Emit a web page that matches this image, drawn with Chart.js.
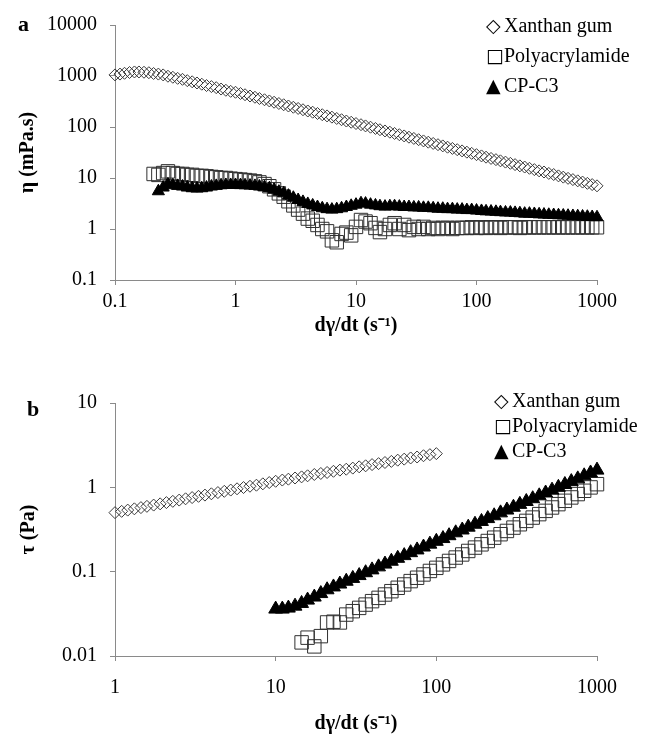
<!DOCTYPE html>
<html>
<head>
<meta charset="utf-8">
<script src="https://cdn.jsdelivr.net/npm/chart.js@4.4.1/dist/chart.umd.min.js"></script>
<style>
  body { margin: 0; background: #fff; }
  #page { position: relative; width: 646px; height: 738px; overflow: hidden; }
  .box { position: absolute; left: 0; width: 646px; }
  .lg { position: absolute; font: 20px 'Liberation Serif', serif; line-height: 24px; white-space: nowrap; color: #000; }
  .sym { display: inline-block; width: 18px; font-family: 'DejaVu Sans', sans-serif; font-size: 19px; }
  .panel { position: absolute; font: bold 22px 'Liberation Serif', serif; line-height: 26px; color: #000; }
</style>
</head>
<body>
<div id="page">
  <div class="box" style="top:0;height:345px"><canvas id="viscosityChart"></canvas></div>
  <div class="box" style="top:345px;height:393px"><canvas id="stressChart"></canvas></div>

  <div class="panel" style="left:18px;top:11px">a</div>
  <div class="lg" style="left:486px;top:13px"><span class="sym">◇</span>Xanthan gum</div>
  <div class="lg" style="left:486px;top:43px"><span class="sym">□</span>Polyacrylamide</div>
  <div class="lg" style="left:486px;top:73px"><span class="sym">▲</span>CP-C3</div>

  <div class="panel" style="left:27px;top:396px">b</div>
  <div class="lg" style="left:494px;top:388px"><span class="sym">◇</span>Xanthan gum</div>
  <div class="lg" style="left:494px;top:413px"><span class="sym">□</span>Polyacrylamide</div>
  <div class="lg" style="left:494px;top:438px"><span class="sym">▲</span>CP-C3</div>
</div>
<script>
// shear rates (1/s), same sweep for both panels
const shearRate = [
  0.1, 0.11, 0.12, 0.132, 0.145, 0.158, 0.174, 0.191, 0.209, 0.229,
  0.251, 0.275, 0.302, 0.331, 0.363, 0.398, 0.437, 0.479, 0.525, 0.575,
  0.631, 0.692, 0.759, 0.832, 0.912, 1, 1.1, 1.2, 1.32, 1.45,
  1.58, 1.74, 1.91, 2.09, 2.29, 2.51, 2.75, 3.02, 3.31, 3.63,
  3.98, 4.37, 4.79, 5.25, 5.75, 6.31, 6.92, 7.59, 8.32, 9.12,
  10, 11, 12, 13.2, 14.5, 15.8, 17.4, 19.1, 20.9, 22.9,
  25.1, 27.5, 30.2, 33.1, 36.3, 39.8, 43.7, 47.9, 52.5, 57.5,
  63.1, 69.2, 75.9, 83.2, 91.2, 100, 110, 120, 132, 145,
  158, 174, 191, 209, 229, 251, 275, 302, 331, 363,
  398, 437, 479, 525, 575, 631, 692, 759, 832, 912,
  1000
];

// panel a: viscosity (mPa.s)
const xanthanEta = [
  1050, 1090, 1130, 1170, 1200, 1200, 1185, 1160, 1120, 1090,
  1050, 990, 945, 900, 860, 810, 770, 730, 690, 650,
  620, 590, 555, 525, 500, 480, 454, 429, 405, 383,
  362, 342, 324, 306, 289, 273, 258, 244, 231, 218,
  206, 195, 184, 174, 165, 156, 147, 139, 131, 124,
  117, 111, 105, 99.1, 93.6, 88.5, 83.7, 79.1, 74.7, 70.6,
  66.8, 63.1, 59.7, 56.4, 53.3, 50.4, 47.6, 45.0, 42.6, 40.2,
  38.0, 35.9, 34.0, 32.1, 30.4, 28.7, 27.1, 25.6, 24.2, 22.9,
  21.7, 20.5, 19.4, 18.3, 17.3, 16.4, 15.5, 14.6, 13.8, 13.1,
  12.3, 11.7, 11.0, 10.4, 9.85, 9.31, 8.80, 8.32, 7.86, 7.43,
  7.02
];
const pamEta = [
  null, null, null, null, null, null, null, null, 12, 11.5,
  12.5, 13.5, 12.5, 12, 12, 11.5, 11.5, 11, 11, 10.8,
  10.5, 10.3, 10, 10, 9.7, 9.5, 9.3, 9.1, 8.9, 8.6,
  8.2, 7.6, 6.9, 6.0, 5.0, 4.3, 3.5, 2.9, 2.4, 2.0,
  1.6, 1.45, 1.2, 1.0, 0.9, 0.6, 0.55, 0.8, 0.85, 0.75,
  1.1, 1.5, 1.4, 1.3, 1.05, 0.87, 1.0, 1.2, 1.3, 1.0,
  1.2, 0.95, 1.1, 1.0, 1.1, 1.0, 1.05, 1.0, 1.05, 1.05,
  1.0, 1.05, 1.05, 1.05, 1.08, 1.05, 1.08, 1.05, 1.08, 1.08,
  1.05, 1.08, 1.08, 1.08, 1.05, 1.08, 1.08, 1.08, 1.08, 1.08,
  1.08, 1.08, 1.08, 1.08, 1.08, 1.08, 1.08, 1.08, 1.08, 1.08,
  1.08
];
const cpEta = [
  null, null, null, null, null, null, null, null, null, 5.5,
  6.5, 7.5, 7.2, 7, 6.8, 6.5, 6.3, 6.2, 6.3, 6.5,
  6.8, 7, 7.2, 7.3, 7.3, 7.3, 7.25, 7.2, 7.1, 7.0,
  6.8, 6.6, 6.3, 5.9, 5.4, 5.0, 4.5, 4.1, 3.7, 3.4,
  3.1, 2.9, 2.7, 2.55, 2.45, 2.4, 2.45, 2.55, 2.7, 2.85,
  3.0, 3.2, 3.15, 3.0, 2.9, 2.8, 2.75, 2.8, 2.8, 2.75,
  2.7, 2.7, 2.65, 2.65, 2.6, 2.6, 2.55, 2.5, 2.5, 2.45,
  2.45, 2.4, 2.4, 2.35, 2.35, 2.3, 2.26, 2.22, 2.2, 2.17,
  2.14, 2.11, 2.1, 2.07, 2.04, 2.0, 2.0, 1.97, 1.94, 1.92,
  1.9, 1.88, 1.86, 1.84, 1.82, 1.8, 1.78, 1.76, 1.74, 1.72,
  1.7
];

// panel b: shear stress (Pa)
const xanthanTau = [
  null, null, null, null, null, null, null, null, null, null,
  null, null, null, null, null, null, null, null, null, null,
  null, null, null, null, null, 0.501, 0.519, 0.537, 0.556, 0.575,
  0.595, 0.616, 0.637, 0.659, 0.682, 0.706, 0.731, 0.756, 0.782, 0.809,
  0.838, 0.867, 0.897, 0.928, 0.961, 0.995, 1.03, 1.06, 1.10, 1.14,
  1.18, 1.22, 1.25, 1.29, 1.33, 1.37, 1.42, 1.46, 1.50, 1.55,
  1.60, 1.64, 1.69, 1.75, 1.80, 1.86, 1.91, 1.97, 2.03, 2.10,
  2.16, 2.23, 2.29, 2.37, 2.44, 2.51
];
const pamTau = [
  null, null, null, null, null, null, null, null, null, null,
  null, null, null, null, null, null, null, null, null, null,
  null, null, null, null, null, null, null, null, null, null,
  null, null, null, null, null, null, null, null, null, null,
  null, null, null, null, null, null, null, null, null, null,
  null, null, null, null, 0.0145, 0.0165, 0.013, 0.0172, 0.025, 0.0255,
  0.025, 0.031, 0.034, 0.0372, 0.0407, 0.0447, 0.0489, 0.0536, 0.0587, 0.0644,
  0.0705, 0.0773, 0.0847, 0.0927, 0.102, 0.111, 0.122, 0.134, 0.147, 0.160,
  0.176, 0.193, 0.211, 0.231, 0.253, 0.278, 0.304, 0.333, 0.365, 0.400,
  0.438, 0.481, 0.526, 0.577, 0.632, 0.692, 0.759, 0.832, 0.910, 0.998,
  1.09
];
const cpTau = [
  null, null, null, null, null, null, null, null, null, null,
  null, null, null, null, null, null, null, null, null, null,
  null, null, null, null, null, null, null, null, null, null,
  null, null, null, null, null, null, null, null, null, null,
  null, null, null, null, null, null, null, null, null, null,
  0.036, 0.036, 0.037, 0.039, 0.042, 0.046, 0.050, 0.055, 0.061, 0.0659,
  0.0713, 0.077, 0.0832, 0.0899, 0.0972, 0.105, 0.114, 0.123, 0.133, 0.144,
  0.155, 0.168, 0.181, 0.196, 0.212, 0.229, 0.247, 0.267, 0.289, 0.312,
  0.337, 0.365, 0.394, 0.426, 0.460, 0.498, 0.538, 0.581, 0.628, 0.679,
  0.733, 0.793, 0.857, 0.926, 1.00, 1.08, 1.17, 1.26, 1.37, 1.48,
  1.60
];

// axis tick values
const rateTicksA = [0.1, 1, 10, 100, 1000];
const etaTicks = [0.1, 1, 10, 100, 1000, 10000];
const rateTicksB = [1, 10, 100, 1000];
const tauTicks = [0.01, 0.1, 1, 10];

const FONT = 'Liberation Serif';
const axisGray = '#8a8a8a';

const toPoints = (ys) => shearRate
  .map((x, i) => ({ x, y: ys[i] }))
  .filter(p => p.y != null);

const makeAxis = (ticksList, min, max, title, opts) => ({
  type: 'logarithmic',
  min, max,
  afterBuildTicks: s => { s.ticks = ticksList.map(v => ({ value: v })); },
  afterFit: opts.fit,
  border: { display: true, color: axisGray, width: 1 },
  grid: { display: true, drawOnChartArea: false, drawTicks: true, tickLength: 5, color: axisGray, lineWidth: 1 },
  ticks: {
    color: '#000',
    font: { family: FONT, size: 20 },
    padding: opts.pad,
    autoSkip: false,
    maxRotation: 0,
    callback: v => String(v)
  },
  title: {
    display: true,
    text: title,
    color: '#000',
    font: { family: FONT, size: 20, weight: 'bold' },
    padding: opts.titlePad
  }
});

const makeDatasets = (xg, pam, cp, big) => ([{
    label: 'Xanthan gum',
    data: toPoints(xg),
    pointStyle: 'rectRot',
    pointRadius: 6,
    borderColor: '#3a3a3a',
    backgroundColor: 'rgba(0,0,0,0)',
    borderWidth: 1,
    order: 3
  }, {
    label: 'Polyacrylamide',
    data: toPoints(pam),
    pointStyle: 'rect',
    pointRadius: 9.5,
    borderColor: '#303030',
    backgroundColor: 'rgba(0,0,0,0)',
    borderWidth: 1,
    order: 2
  }, {
    label: 'CP-C3',
    data: toPoints(cp),
    pointStyle: 'triangle',
    pointRadius: big ? 8 : 7,
    borderColor: '#000',
    backgroundColor: '#000',
    borderWidth: 1,
    order: 1
  }]);

const baseOptions = (padTop, xAxis, yAxis) => ({
  responsive: true,
  maintainAspectRatio: false,
  animation: false,
  devicePixelRatio: 1,
  showLine: false,
  clip: false,
  layout: { padding: { top: padTop, right: 49, left: 0, bottom: 0 } },
  plugins: { legend: { display: false }, tooltip: { enabled: false } },
  scales: { x: xAxis, y: yAxis }
});

// 粘度 vs 剪切速率
new Chart(document.getElementById('viscosityChart'), {
  type: 'scatter',
  data: { datasets: makeDatasets(xanthanEta, pamEta, cpEta, false) },
  options: baseOptions(25,
    makeAxis(rateTicksA, 0.1, 1000, 'dγ/dt (s⁻¹)', {
      fit: s => { s.height = 65; }, pad: 5, titlePad: { top: 0, bottom: 7 }
    }),
    makeAxis(etaTicks, 0.1, 10000, 'η (mPa.s)', {
      fit: s => { s.width = 115; }, pad: 13, titlePad: { top: 16, bottom: 0 }
    }))
});

// 剪切应力 vs 剪切速率
new Chart(document.getElementById('stressChart'), {
  type: 'scatter',
  data: { datasets: makeDatasets(xanthanTau, pamTau, cpTau, true) },
  options: baseOptions(58,
    makeAxis(rateTicksB, 1, 1000, 'dγ/dt (s⁻¹)', {
      fit: s => { s.height = 82; }, pad: 15, titlePad: { top: 0, bottom: 2 }
    }),
    makeAxis(tauTicks, 0.01, 10, 'τ (Pa)', {
      fit: s => { s.width = 115; }, pad: 13, titlePad: { top: 17, bottom: 0 }
    }))
});
</script>
</body>
</html>
